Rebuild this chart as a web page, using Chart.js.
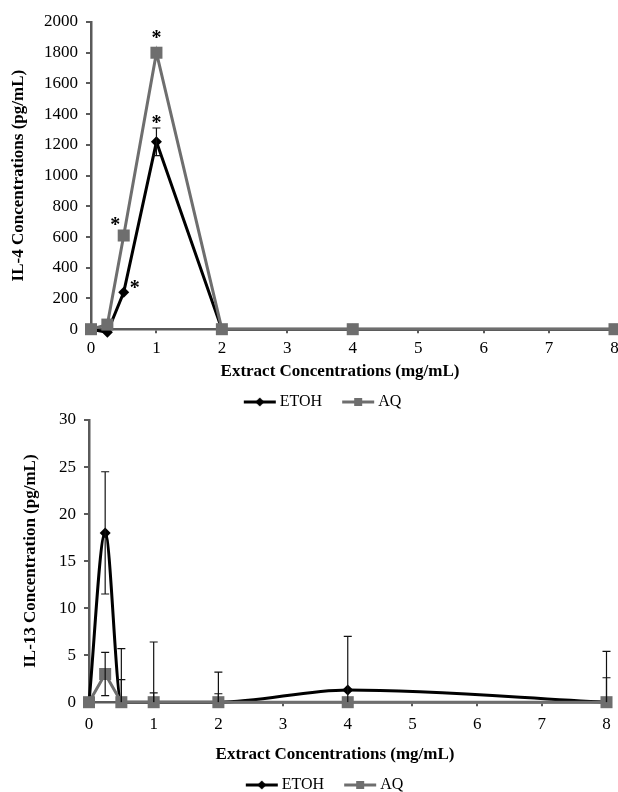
<!DOCTYPE html>
<html>
<head>
<meta charset="utf-8">
<script src="https://cdn.jsdelivr.net/npm/chart.js@4/dist/chart.umd.min.js"></script>
<style>
  body { margin:0; background:#fff; width:618px; height:792px; position:relative; overflow:hidden; }
  canvas { position:absolute; left:0; }
  #il4 { top:0; }
  #il13 { top:388px; }
</style>
</head>
<body>
<canvas id="il4" width="623" height="420"></canvas>
<canvas id="il13" width="615" height="415"></canvas>
<script>
// extract concentrations (mg/mL)
const conc = [0, 0.25, 0.5, 1, 2, 4, 8];

// IL-4 (pg/mL)
const il4Etoh = [0, -20, 240, 1220, 0, 0, 0];
const il4Aq = [0, 30, 610, 1800, 0, 0, 0];
const il4EtohErr = [0, 0, 0, 90, 0, 0, 0];
const il4AqErr = [0, 0, 0, 0, 0, 0, 0];
// significance marks: [x, y]
const il4Stars = [[1, 1915], [1, 1360], [0.37, 700], [0.67, 290]];

// IL-13 (pg/mL)
const il13Etoh = [0, 18, 0, 0, 0, 1.3, 0];
const il13Aq = [0, 3, 0, 0, 0, 0, 0];
const il13EtohErr = [0, 6.5, 5.7, 6.4, 3.2, 5.7, 5.4];
const il13AqErr = [0, 2.3, 2.4, 1.0, 0.9, 0, 2.6];

const etohColor = '#000000';
const aqColor = '#6e6e6e';
const axisColor = '#5a5a5a';
const serif = 'Liberation Serif';
const xTitle = 'Extract Concentrations (mg/mL)      ';

function pts(ys) {
  return conc.map((x, i) => ({x: x, y: ys[i]}));
}

function legendIcon(color, style, r) {
  const c = document.createElement('canvas');
  c.width = 34; c.height = 16;
  const ctx = c.getContext('2d');
  ctx.strokeStyle = color;
  ctx.lineWidth = 3;
  ctx.beginPath(); ctx.moveTo(1, 8); ctx.lineTo(33, 8); ctx.stroke();
  ctx.fillStyle = color;
  ctx.beginPath();
  if (style === 'rect') {
    ctx.rect(17 - r, 8 - r, 2 * r, 2 * r);
  } else {
    ctx.moveTo(17, 8 - r); ctx.lineTo(17 + r, 8); ctx.lineTo(17, 8 + r); ctx.lineTo(17 - r, 8); ctx.closePath();
  }
  ctx.fill();
  return c;
}

const errorBars = {
  id: 'errorBars',
  afterDatasetsDraw(chart, args, opts) {
    const ctx = chart.ctx, xs = chart.scales.x, ys = chart.scales.y, a = chart.chartArea;
    ctx.save();
    ctx.beginPath(); ctx.rect(a.left - 10, a.top - 30, a.right - a.left + 20, a.bottom - a.top + 30); ctx.clip();
    ctx.strokeStyle = '#111';
    ctx.lineWidth = 1.2;
    chart.data.datasets.forEach(ds => {
      (ds.errors || []).forEach((e, i) => {
        if (!e) return;
        const px = xs.getPixelForValue(ds.data[i].x);
        const top = ys.getPixelForValue(ds.data[i].y + e);
        const bot = Math.min(ys.getPixelForValue(ds.data[i].y - e), a.bottom);
        ctx.beginPath();
        ctx.moveTo(px, top); ctx.lineTo(px, bot);
        ctx.moveTo(px - 4, top); ctx.lineTo(px + 4, top);
        if (bot < a.bottom) { ctx.moveTo(px - 4, bot); ctx.lineTo(px + 4, bot); }
        ctx.stroke();
      });
    });
    ctx.restore();
    ctx.save();
    ctx.fillStyle = '#000';
    ctx.font = 'bold 20px "' + serif + '"';
    ctx.textAlign = 'center';
    ctx.textBaseline = 'middle';
    (opts.stars || []).forEach(s => {
      ctx.fillText('*', xs.getPixelForValue(s[0]), ys.getPixelForValue(s[1]) + 4);
    });
    ctx.restore();
  }
};

function makeChart(id, etoh, aq, etohErr, aqErr, stars, yMax, yStep, yTitle, cfg) {
  return new Chart(document.getElementById(id), {
    type: 'line',
    data: {
      datasets: [
        {
          label: 'ETOH   ', data: pts(etoh), errors: etohErr, order: 1,
          borderColor: etohColor, backgroundColor: etohColor, borderWidth: 3,
          pointStyle: 'rectRot', pointRadius: 5.5, pointBorderWidth: 0,
          cubicInterpolationMode: cfg.smooth ? 'monotone' : 'default',
          clip: false
        },
        {
          label: 'AQ', data: pts(aq), errors: aqErr, order: 0,
          borderColor: aqColor, backgroundColor: aqColor, borderWidth: 3,
          pointStyle: 'rect', pointRadius: 8.5, pointBorderWidth: 0,
          clip: false
        }
      ]
    },
    options: {
      responsive: false,
      animation: false,
      layout: { padding: { top: cfg.padTop, right: 0, left: cfg.padLeft, bottom: 0 } },
      scales: {
        x: {
          type: 'linear', min: 0, max: 8,
          afterFit: s => { s.paddingRight = 0; s.paddingLeft = 0; },
          ticks: { stepSize: 1, color: '#000', padding: cfg.xTickPad, font: { family: serif, size: 17 } },
          grid: { drawOnChartArea: false, tickLength: 4, color: axisColor, lineWidth: 2 },
          border: { color: axisColor, width: 2.5 },
          title: { display: true, text: xTitle, color: '#000',
                   padding: { top: cfg.xTitleTop, bottom: 0 }, font: { family: serif, size: 17, weight: 'bold' } }
        },
        y: {
          min: 0, max: yMax,
          afterFit: s => { s.width = cfg.left - cfg.padLeft; },
          ticks: { stepSize: yStep, color: '#000', padding: 8, font: { family: serif, size: 17 },
                   callback: v => String(v) },
          grid: { drawOnChartArea: false, tickLength: 5, color: axisColor, lineWidth: 2 },
          border: { color: axisColor, width: 2.5 },
          title: { display: true, text: yTitle, color: '#000',
                   padding: { top: cfg.yTitleX - cfg.padLeft - 10, bottom: 0 }, font: { family: serif, size: 17, weight: 'bold' } }
        }
      },
      plugins: {
        errorBars: { stars: stars },
        tooltip: { enabled: false },
        legend: {
          position: 'bottom',
          labels: {
            usePointStyle: true,
            pointStyleWidth: 24,
            boxHeight: 16,
            padding: 12,
            color: '#000',
            font: { family: serif, size: 16 },
            generateLabels: chart => chart.data.datasets.map((ds, i) => ({
              text: ds.label,
              datasetIndex: i,
              fontColor: '#000',
              lineWidth: 0,
              hidden: false,
              pointStyle: legendIcon(ds.borderColor, ds.pointStyle === 'rect' ? 'rect' : 'diamond', ds.pointStyle === 'rect' ? 4 : 4.5)
            }))
          }
        }
      }
    },
    plugins: [errorBars]
  });
}

makeChart('il4', il4Etoh, il4Aq, il4EtohErr, il4AqErr, il4Stars, 2000, 200,
  'IL-4 Concentrations (pg/mL)',
  { padTop: 22, padLeft: 26, left: 91, yTitleX: 18, xTickPad: 5, xTitleTop: -2, smooth: false });

makeChart('il13', il13Etoh, il13Aq, il13EtohErr, il13AqErr, [], 30, 5,
  'IL-13 Concentration (pg/mL)',
  { padTop: 32, padLeft: 38, left: 89, yTitleX: 30, xTickPad: 8, xTitleTop: 2, smooth: true });
</script>
</body>
</html>
